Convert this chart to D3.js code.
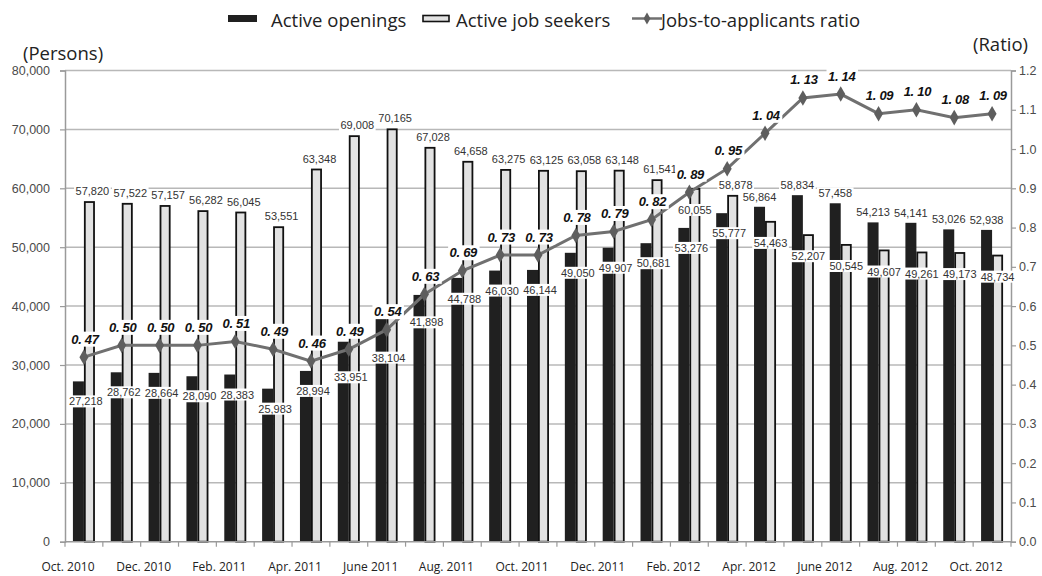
<!DOCTYPE html>
<html>
<head>
<meta charset="utf-8">
<script src="https://cdn.jsdelivr.net/npm/d3@7"></script>
<style>
  body { margin: 0; background: #fff; }
  svg { display: block; }
</style>
</head>
<body>
<div id="chart"></div>
<script>
"use strict";

// months on the category axis (every other one gets a label)
const months = ["Oct. 2010", "Nov. 2010", "Dec. 2010", "Jan. 2011", "Feb. 2011", "Mar. 2011",
  "Apr. 2011", "May 2011", "June 2011", "July 2011", "Aug. 2011", "Sep. 2011",
  "Oct. 2011", "Nov. 2011", "Dec. 2011", "Jan. 2012", "Feb. 2012", "Mar. 2012",
  "Apr. 2012", "May 2012", "June 2012", "July 2012", "Aug. 2012", "Sep. 2012", "Oct. 2012"];

const openings = [27218, 28762, 28664, 28090, 28383, 25983, 28994, 33951, 38104, 41898,
  44788, 46030, 46144, 49050, 49907, 50681, 53276, 55777, 56864, 58834, 57458, 54213,
  54141, 53026, 52938];

const seekers = [57820, 57522, 57157, 56282, 56045, 53551, 63348, 69008, 70165, 67028,
  64658, 63275, 63125, 63058, 63148, 61541, 60055, 58878, 54463, 52207, 50545, 49607,
  49261, 49173, 48734];

const ratio = [0.47, 0.50, 0.50, 0.50, 0.51, 0.49, 0.46, 0.49, 0.54, 0.63, 0.69, 0.73,
  0.73, 0.78, 0.79, 0.82, 0.89, 0.95, 1.04, 1.13, 1.14, 1.09, 1.10, 1.08, 1.09];

const leftTicks = [0, 10000, 20000, 30000, 40000, 50000, 60000, 70000, 80000];
const rightTicks = [0, 0.1, 0.2, 0.3, 0.4, 0.5, 0.6, 0.7, 0.8, 0.9, 1.0, 1.1, 1.2];

const seriesNames = ["Active openings", "Active job seekers", "Jobs-to-applicants ratio"];

// seekers label pushed under the bar top (crowded by the ratio label there)
const seekerLabelBelow = ["Feb. 2012"];

var width = 1042,
    height = 576;

var plotLeft = 65,
    plotRight = 1011,
    plotTop = 70.5,
    plotBottom = 541.7;

var darkFill = "#202020",
    lightFill = "#e2e2e2",
    lineColor = "#707070",
    gridColor = "#b8b8b8";

var rows = months.map(function(m, i) {
  return { month: m, open: openings[i], seek: seekers[i], ratio: ratio[i], i: i };
});

var svg = d3.select("#chart").append("svg")
  .attr("width", width)
  .attr("height", height);

var x = d3.scaleBand()
  .domain(months)
  .range([plotLeft, plotRight]);

var xSub = d3.scaleBand()
  .domain(["open", "seek"])
  .range([0, x.bandwidth()])
  .paddingOuter(0.72);

var yLeft = d3.scaleLinear()
  .domain([0, 80000])
  .range([plotBottom, plotTop]);

var yRight = d3.scaleLinear()
  .domain([0, 1.2])
  .range([plotBottom, plotTop]);

// gridlines
svg.append("g").selectAll("line").data(leftTicks.filter(function(d) { return d > 0; }))
  .enter().append("line")
    .attr("x1", plotLeft)
    .attr("x2", plotRight)
    .attr("y1", function(d) { return yLeft(d); })
    .attr("y2", function(d) { return yLeft(d); })
    .attr("stroke", gridColor)
    .attr("stroke-width", 1.5);

// bars
var groups = svg.append("g").selectAll("g").data(rows)
  .enter().append("g")
    .attr("transform", function(d) { return "translate(" + x(d.month) + ",0)"; });

groups.append("rect")
  .attr("x", xSub("open"))
  .attr("width", xSub.bandwidth())
  .attr("y", function(d) { return yLeft(d.open); })
  .attr("height", function(d) { return plotBottom - yLeft(d.open); })
  .attr("fill", darkFill);

groups.append("rect")
  .attr("x", xSub("seek") + 0.9)
  .attr("width", xSub.bandwidth() - 1.8)
  .attr("y", function(d) { return yLeft(d.seek) + 0.9; })
  .attr("height", function(d) { return plotBottom - yLeft(d.seek) - 0.9; })
  .attr("fill", lightFill)
  .attr("stroke", "#111")
  .attr("stroke-width", 1.8);

// axes
var leftAxis = svg.append("g")
  .attr("transform", "translate(" + plotLeft + ",0)")
  .call(d3.axisLeft(yLeft).tickValues(leftTicks).tickFormat(d3.format(",")).tickSize(5).tickPadding(10));

var rightAxis = svg.append("g")
  .attr("transform", "translate(" + plotRight + ",0)")
  .call(d3.axisRight(yRight).tickValues(rightTicks).tickFormat(d3.format(".1f")).tickSize(5).tickPadding(3));

[leftAxis, rightAxis].forEach(function(ax) {
  ax.select(".domain").attr("stroke", "#9a9a9a").attr("stroke-width", 1.5);
  ax.selectAll(".tick line").attr("stroke", "#9a9a9a").attr("stroke-width", 1.2);
  ax.selectAll(".tick text")
    .attr("fill", "#4a4a4a")
    .style("font-family", "'Liberation Sans', Arial, sans-serif")
    .style("font-size", "12.5px");
});

// bottom axis: line, ticks at band edges, labels every other month
svg.append("line")
  .attr("x1", plotLeft).attr("x2", plotRight)
  .attr("y1", plotBottom).attr("y2", plotBottom)
  .attr("stroke", "#9a9a9a")
  .attr("stroke-width", 1.5);

svg.append("g").selectAll("line").data(months.concat(["end"]))
  .enter().append("line")
    .attr("x1", function(d, i) { return plotLeft + i * x.step(); })
    .attr("x2", function(d, i) { return plotLeft + i * x.step(); })
    .attr("y1", plotBottom)
    .attr("y2", plotBottom + 5)
    .attr("stroke", "#9a9a9a")
    .attr("stroke-width", 1.2);

svg.append("g").selectAll("text").data(months.filter(function(d, i) { return i % 2 === 0; }))
  .enter().append("text")
    .attr("x", function(d) { return x(d) + 3; })
    .attr("y", 566)
    .attr("text-anchor", "middle")
    .attr("dominant-baseline", "central")
    .style("font-family", "'Open Sans', sans-serif")
    .style("font-size", "12px")
    .attr("fill", "#222")
    .text(function(d) { return d; });

// axis titles
svg.append("text")
  .attr("x", 23).attr("y", 52)
  .attr("dominant-baseline", "central")
  .style("font-family", "'Open Sans', sans-serif")
  .style("font-size", "18.5px")
  .attr("fill", "#222")
  .text("(Persons)");

svg.append("text")
  .attr("x", 1028).attr("y", 43)
  .attr("text-anchor", "end")
  .attr("dominant-baseline", "central")
  .style("font-family", "'Open Sans', sans-serif")
  .style("font-size", "18.5px")
  .attr("fill", "#222")
  .text("(Ratio)");

// labels with white boxes
var labelLayer = svg.append("g");

function boxedLabel(txt, cx, cy, font) {
  var g = labelLayer.append("g");
  var rect = g.append("rect").attr("fill", "#fff");
  var t = g.append("text")
    .attr("x", cx)
    .attr("y", cy)
    .attr("text-anchor", "middle")
    .attr("dominant-baseline", "central")
    .attr("fill", font.color)
    .style("font-family", font.family)
    .style("font-size", font.size)
    .style("font-weight", font.weight || "normal")
    .style("font-style", font.style || "normal")
    .style("letter-spacing", font.spacing || "0px")
    .text(txt);
  var bb = t.node().getBBox();
  rect.attr("x", bb.x - 1.5)
    .attr("y", bb.y)
    .attr("width", bb.width + 3)
    .attr("height", bb.height);
  return g;
}

var valueFont = { family: "'Liberation Sans', Arial, sans-serif", size: "11px", color: "#333" };
var ratioFont = { family: "'Liberation Sans', Arial, sans-serif", size: "13px", color: "#111",
  weight: "bold", style: "italic", spacing: "-0.3px" };

var fmt = d3.format(",");

rows.forEach(function(d) {
  var x0 = x(d.month);
  var openCx = x0 + xSub("open") + xSub.bandwidth() / 2;
  var seekCx = x0 + xSub("seek") + xSub.bandwidth() / 2;
  var mid = x0 + x.bandwidth() / 2;

  // openings
  if (d.open > d.seek) {
    boxedLabel(fmt(d.open), openCx, yLeft(d.open) - 10, valueFont);
  } else {
    var below = Math.max(yLeft(d.open) + 20, yRight(d.ratio) + 28);
    boxedLabel(fmt(d.open), mid + 2, below, valueFont);
  }

  // job seekers
  if (d.seek > d.open && seekerLabelBelow.indexOf(d.month) < 0) {
    boxedLabel(fmt(d.seek), seekCx + 3, yLeft(d.seek) - 10, valueFont);
  } else {
    boxedLabel(fmt(d.seek), seekCx, yLeft(d.seek) + 22, valueFont);
  }
});

// ratio line
var line = d3.line()
  .x(function(d) { return x(d.month) + x.bandwidth() / 2; })
  .y(function(d) { return yRight(d.ratio); });

svg.append("path")
  .datum(rows)
  .attr("d", line)
  .attr("fill", "none")
  .attr("stroke", lineColor)
  .attr("stroke-width", 3);

svg.append("g").selectAll("path").data(rows)
  .enter().append("path")
    .attr("transform", function(d) {
      return "translate(" + (x(d.month) + x.bandwidth() / 2) + "," + yRight(d.ratio) + ")";
    })
    .attr("d", d3.symbol(d3.symbolDiamond, 70))
    .attr("fill", "#5e5e5e");

var ratioLabelLayer = svg.append("g");
labelLayer = ratioLabelLayer;
rows.forEach(function(d) {
  var txt = d3.format(".2f")(d.ratio).replace(".", ". ");
  boxedLabel(txt, x(d.month) + x.bandwidth() / 2 + 1, yRight(d.ratio) - 18, ratioFont);
});

// legend
var legend = svg.append("g");
var legendFont = "18.5px";

legend.append("rect")
  .attr("x", 228).attr("y", 15).attr("width", 29).attr("height", 7)
  .attr("fill", darkFill);
legend.append("rect")
  .attr("x", 423).attr("y", 15.5).attr("width", 26).attr("height", 6)
  .attr("fill", lightFill).attr("stroke", "#111").attr("stroke-width", 1.6);
legend.append("line")
  .attr("x1", 632).attr("x2", 662).attr("y1", 18.5).attr("y2", 18.5)
  .attr("stroke", lineColor).attr("stroke-width", 2.5);
legend.append("path")
  .attr("transform", "translate(647,18.5)")
  .attr("d", d3.symbol(d3.symbolDiamond, 40))
  .attr("fill", "#5e5e5e");

legend.selectAll("text").data(seriesNames)
  .enter().append("text")
    .attr("x", function(d, i) { return [271, 456, 661][i]; })
    .attr("y", 19)
    .attr("dominant-baseline", "central")
    .style("font-family", "'Open Sans', sans-serif")
    .style("font-size", legendFont)
    .attr("fill", "#222")
    .text(function(d) { return d; });
</script>
</body>
</html>
